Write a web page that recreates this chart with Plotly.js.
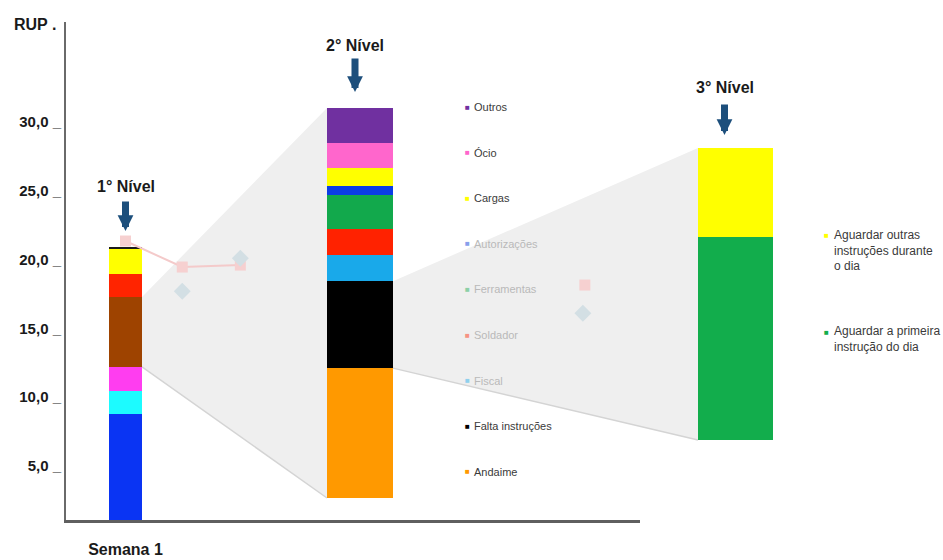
<!DOCTYPE html>
<html><head><meta charset="utf-8">
<script src="https://cdn.plot.ly/plotly-3.0.1.min.js"></script>
<style>html,body{margin:0;padding:0;background:#fff}#chart{width:943px;height:560px}</style>
</head><body><div id="chart"></div>
<script>
// ---------------- DATA ----------------
const semanas = ['Semana 1'];
const nivel1Categorias = ['Segmento 1','Segmento 2','Segmento 3','Segmento 4','Segmento 5','Segmento 6','Segmento 7'];
const nivel1Valores = [8.78, 1.67, 1.75, 5.08, 1.67, 1.82, 0.15];
const nivel1Cores = ['#0a34f3','#1cfbff','#ff3df0','#9e4300','#ff2400','#ffff00','#1c1c1c'];

const nivel2Rotulo = ['2° Nível'];
const nivel2Categorias = ['Andaime','Falta instruções','Fiscal','Soldador','Ferramentas','Autorizações','Cargas','Ócio','Outros'];
const nivel2Valores = [33.3, 22.3, 6.7, 6.7, 8.7, 2.3, 4.6, 6.4, 9.0];
const nivel2Cores = ['#ff9900','#000000','#19a9ea','#ff2200','#12a94c','#0b3de6','#ffff00','#ff66cc','#7030a0'];

const nivel3Rotulo = ['3° Nível'];
const nivel3Categorias = ['Aguardar a primeira instrução do dia','Aguardar outras instruções durante o dia'];
const nivel3Textos = ['Aguardar a primeira<br>instrução do dia','Aguardar outras<br>instruções durante<br>o dia'];
const nivel3Valores = [69.5, 30.5];
const nivel3Cores = ['#12ad4c','#ffff00'];

const yTickVals = [5, 10, 15, 20, 25, 30];
const yTickText = ['5,0 _', '10,0 _', '15,0 _', '20,0 _', '25,0 _', '30,0 _'];

// faint remnants of an underlying line chart
const fundoLinhaX = [0, 0.86, 1.74, null, 6.96];
const fundoLinhaY = [21.35, 19.46, 19.6, null, 18.15];
const fundoDiamX = [0.86, 1.74, 6.93];
const fundoDiamY = [17.7, 20.1, 16.1];

const nivel1Detalhado = 3;   // segment expanded into level 2
const nivel2Detalhado = 1;   // segment expanded into level 3
const legendaEsmaecida = ['Autorizações','Ferramentas','Soldador','Fiscal'];

// ---------------- LAYOUT GEOMETRY ----------------
const W = 943, H = 560, ML = 66, MR = 0, MT = 22, MB = 40;
const PW = W - ML - MR, PH = H - MT - MB;
const fx = p => (p - ML) / PW;
const fy = p => (H - MB - p) / PH;

const xDom = [0, fx(640)];
const pxPerCat = 66, bar1W = 0.5;
const xr0 = -(125.5 - ML) / pxPerCat;
const xr1 = xr0 + (640 - ML) / pxPerCat;
const yPx = 13.76;
const yMax = 30 + (122 - MT) / yPx;
const yMin = 5 - (H - MB - 466) / yPx;

const x2Dom = [fx(327), fx(393)], y2Dom = [fy(498), fy(108)];
const x3Dom = [fx(698), fx(773)], y3Dom = [fy(440), fy(148)];

const sum = a => a.reduce((s, v) => s + v, 0);
const fy1 = v => (v - yMin) / (yMax - yMin);
const fy2 = v => y2Dom[0] + v / sum(nivel2Valores) * (y2Dom[1] - y2Dom[0]);
const fx1 = v => xDom[0] + (v - xr0) / (xr1 - xr0) * (xDom[1] - xDom[0]);

const b1Lo = sum(nivel1Valores.slice(0, nivel1Detalhado));
const b1Hi = b1Lo + nivel1Valores[nivel1Detalhado];
const b2Lo = sum(nivel2Valores.slice(0, nivel2Detalhado));
const b2Hi = b2Lo + nivel2Valores[nivel2Detalhado];

const traces = [];
nivel1Categorias.forEach((c, i) => traces.push({
  type: 'bar', x: semanas, y: [nivel1Valores[i]], name: c, width: bar1W,
  marker: {color: nivel1Cores[i], line: {width: 0}}, xaxis: 'x', yaxis: 'y', showlegend: false
}));
nivel2Categorias.forEach((c, i) => traces.push({
  type: 'bar', x: nivel2Rotulo, y: [nivel2Valores[i]], name: c, width: 1,
  marker: {color: nivel2Cores[i], line: {width: 0}}, xaxis: 'x2', yaxis: 'y2', showlegend: false
}));
nivel3Categorias.forEach((c, i) => traces.push({
  type: 'bar', x: nivel3Rotulo, y: [nivel3Valores[i]], name: c, width: 1,
  marker: {color: nivel3Cores[i], line: {width: 0}}, xaxis: 'x3', yaxis: 'y3', showlegend: false
}));
traces.push({
  type: 'scatter', mode: 'lines+markers', x: fundoLinhaX, y: fundoLinhaY, xaxis: 'x4', yaxis: 'y',
  line: {color: '#f4caca', width: 2}, marker: {symbol: 'square', size: 11, color: '#f6d0d0'},
  connectgaps: false, showlegend: false, hoverinfo: 'skip'
});
traces.push({
  type: 'scatter', mode: 'markers', x: fundoDiamX, y: fundoDiamY, xaxis: 'x4', yaxis: 'y',
  marker: {symbol: 'diamond', size: 13, color: '#d3dfe4'}, showlegend: false, hoverinfo: 'skip'
});

// connector (zoom) shapes
const shapes = [];
const t1 = {xa: fx1(bar1W / 2), ya: fy1(b1Hi), yb: fy1(b1Lo), xb: x2Dom[0], yc: y2Dom[1], yd: y2Dom[0]};
const t2 = {xa: x2Dom[1], ya: fy2(b2Hi), yb: fy2(b2Lo), xb: x3Dom[0], yc: y3Dom[1], yd: y3Dom[0]};
[t1, t2].forEach(t => {
  shapes.push({type: 'path', xref: 'paper', yref: 'paper', layer: 'below',
    path: `M${t.xa},${t.ya} L${t.xb},${t.yc} L${t.xb},${t.yd} L${t.xa},${t.yb} Z`,
    fillcolor: '#efefef', line: {width: 0}});
  shapes.push({type: 'line', xref: 'paper', yref: 'paper', layer: 'below',
    x0: t.xa, y0: t.yb, x1: t.xb, y1: t.yd, line: {color: '#d4d4d4', width: 1.5}});
});

function blend(hex, a) {
  const n = parseInt(hex.slice(1), 16), r = n >> 16, g = (n >> 8) & 255, b = n & 255;
  const m = c => Math.round(c * (1 - a) + 239 * a);
  return `rgb(${m(r)},${m(g)},${m(b)})`;
}

const FONT = 'Arial, "Liberation Sans", sans-serif';
const ann = [];
ann.push({xref: 'paper', yref: 'paper', x: fx(12), y: fy(24), xanchor: 'left', yanchor: 'middle',
  text: 'RUP .', showarrow: false, font: {family: FONT, size: 16, color: '#1a1a1a', weight: 'bold'}});

// level titles + arrows
const niveis = [
  {txt: '1° Nível', xref: 'x', x: semanas[0], xs: 0, ty: 186, tail: 200, tip: 231},
  {txt: nivel2Rotulo[0], xref: 'x2', x: nivel2Rotulo[0], xs: -5, ty: 45, tail: 57, tip: 92},
  {txt: nivel3Rotulo[0], xref: 'x3', x: nivel3Rotulo[0], xs: -11, ty: 88, tail: 103, tip: 135}
];
niveis.forEach(n => {
  ann.push({xref: n.xref, yref: 'paper', x: n.x, y: fy(n.ty), xshift: n.xs, showarrow: false,
    xanchor: 'center', yanchor: 'middle',
    text: n.txt, font: {family: FONT, size: 16, color: '#1a1a1a', weight: 'bold'}});
  ann.push({xref: n.xref, yref: 'paper', x: n.x, y: fy(n.tip), xshift: n.xs, text: '',
    showarrow: true, axref: 'pixel', ayref: 'pixel', ax: 0, ay: -(n.tip - n.tail),
    arrowhead: 2, arrowsize: 0.45, arrowwidth: 7, arrowcolor: '#1d4f7c', standoff: 0, startstandoff: 0});
});

// level 2 legend (top to bottom)
const leg2Top = 107, leg2Gap = 45.6;
nivel2Categorias.slice().reverse().forEach((c, k) => {
  const i = nivel2Categorias.length - 1 - k;
  const faded = legendaEsmaecida.includes(c);
  const y = fy(leg2Top + k * leg2Gap);
  ann.push({xref: 'paper', yref: 'paper', x: fx(467), y: y, xanchor: 'center', yanchor: 'middle',
    showarrow: false, text: '■',
    font: {family: FONT, size: 8, color: faded ? blend(nivel2Cores[i], 0.55) : nivel2Cores[i]}});
  ann.push({xref: 'paper', yref: 'paper', x: fx(472), y: y, xanchor: 'left', yanchor: 'middle',
    showarrow: false, text: c,
    font: {family: FONT, size: 11, color: faded ? '#b9b9b9' : '#3a3a3a'}});
});
// level 3 legend
const leg3 = [{i: 1, mk: 235, cy: 250}, {i: 0, mk: 332, cy: 339.5}];
leg3.forEach(l => {
  ann.push({xref: 'paper', yref: 'paper', x: fx(826), y: fy(l.mk), xanchor: 'center', yanchor: 'middle',
    showarrow: false, text: '■', font: {family: FONT, size: 8, color: nivel3Cores[l.i]}});
  ann.push({xref: 'paper', yref: 'paper', x: fx(832), y: fy(l.cy), xanchor: 'left', yanchor: 'middle',
    align: 'left', showarrow: false, text: nivel3Textos[l.i],
    font: {family: FONT, size: 12, color: '#3a3a3a'}});
});

const hidden = {visible: false, fixedrange: true};
const layout = {
  width: W, height: H, margin: {l: ML, r: MR, t: MT, b: MB, pad: 0},
  paper_bgcolor: '#ffffff', plot_bgcolor: 'rgba(0,0,0,0)', barmode: 'stack', showlegend: false,
  font: {family: FONT},
  xaxis: {domain: xDom, type: 'category', range: [xr0, xr1], anchor: 'y', showline: true,
    linecolor: '#5f5f5f', linewidth: 2.5, ticks: '', showgrid: false, zeroline: false,
    ticklabelstandoff: 13, tickfont: {family: FONT, size: 16, color: '#1a1a1a', weight: 'bold'}},
  yaxis: {domain: [0, 1], range: [yMin, yMax], anchor: 'x', showline: true, linecolor: '#6a6a6a',
    linewidth: 2, ticks: '', showgrid: false, zeroline: false, tickvals: yTickVals, ticktext: yTickText,
    ticklabelstandoff: 0, tickfont: {family: FONT, size: 15, color: '#1a1a1a', weight: 'bold'}},
  xaxis2: Object.assign({domain: x2Dom, range: [-0.5, 0.5], anchor: 'y2', type: 'category'}, hidden),
  yaxis2: Object.assign({domain: y2Dom, range: [0, sum(nivel2Valores)], anchor: 'x2'}, hidden),
  xaxis3: Object.assign({domain: x3Dom, range: [-0.5, 0.5], anchor: 'y3', type: 'category'}, hidden),
  yaxis3: Object.assign({domain: y3Dom, range: [0, sum(nivel3Valores)], anchor: 'x3'}, hidden),
  xaxis4: Object.assign({domain: xDom, range: [xr0, xr1], overlaying: 'x', anchor: 'y'}, hidden),
  shapes: shapes, annotations: ann
};
Plotly.newPlot('chart', traces, layout, {displayModeBar: false, staticPlot: true});
</script></body></html>
